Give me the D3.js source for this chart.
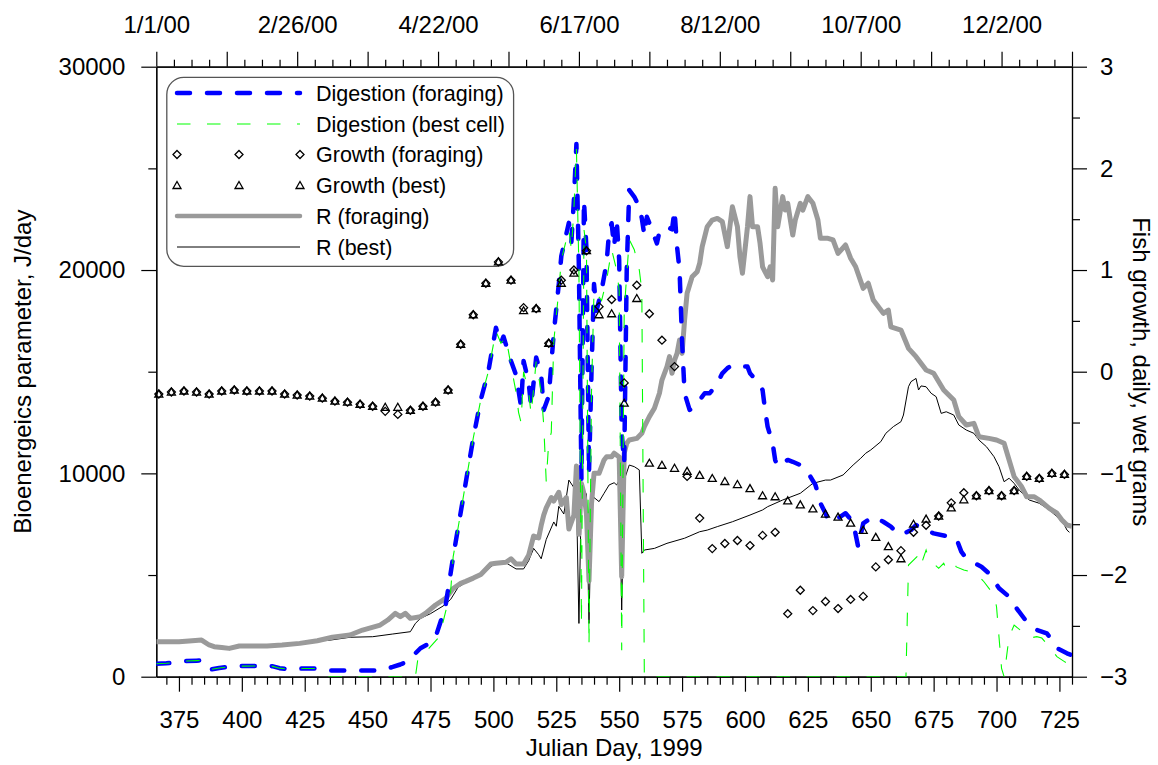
<!DOCTYPE html>
<html><head><meta charset="utf-8">
<script src="https://cdn.jsdelivr.net/npm/d3@7"></script>
<style>
body{margin:0;background:#fff;}
svg{display:block;font-family:"Liberation Sans",Arial,sans-serif;}
</style></head>
<body><svg id="c" width="1158" height="765"></svg>
<script>
// ---------------- data ----------------
const bottomTicks = [375,400,425,450,475,500,525,550,575,600,625,650,675,700,725];
const topLabelDays = [366,422,478,534,590,646,702];
const topLabels = ["1/1/00","2/26/00","4/22/00","6/17/00","8/12/00","10/7/00","12/2/00"];
const leftTicks = [0,10000,20000,30000];
const rightTicks = [-3,-2,-1,0,1,2,3];

const digestionForaging = [[366,640],[370,660],[373,690],[378,770],[382,790],[385,800],[388,360],[391,430],[395,490],[399,520],[406,530],[410,500],[412,520],[415,420],[418,380],[424,400],[430,400],[435,300],[443,300],[447,300],[455,300],[460,480],[463,600],[466,750],[469,1150],[471,1400],[474,1600],[477,1950],[479,2700],[481,3500],[484,5890],[488,8810],[492,11740],[495,13630],[498,15010],[501,17160],[503,16390],[504,16730],[507,15530],[509,14840],[511,13290],[512,15530],[514,14490],[515,13290],[517,15700],[519,14840],[520,13120],[522,13800],[524,16900],[526,19310],[527,20690],[530,22320],[531,21380],[532,23440],[533,26200],[534,20000],[535,9700],[536,23440],[537,21000],[538,10000],[539,15000],[540,19310],[541,18000],[543,19000],[545,20350],[546,21900],[547,22300],[548,21150],[549,22500],[550,20490],[551,12000],[552,10500],[553,20000],[554,23930],[556,23600],[558,23110],[559,22540],[560,21720],[561,22620],[563,22000],[564,21640],[565,21310],[566,21880],[568,22000],[569,22130],[571,22000],[572,22950],[573,21150],[574,20000],[575,16500],[576,13940],[578,13120],[580,13280],[582,13610],[584,13940],[586,13940],[589,14430],[591,14920],[593,15170],[595,15330],[598,15250],[601,15250],[602,14920],[605,14510],[607,14100],[608,13120],[609,12300],[611,11480],[612,10660],[613,10330],[615,10490],[617,10660],[619,10570],[622,10410],[624,10170],[626,9840],[628,9430],[629,9020],[630,8530],[632,8040],[633,7710],[635,7620],[637,7790],[640,8040],[643,7600],[645,6390],[647,7540],[651,7870],[655,7620],[658,7380],[660,7130],[662,6970],[666,7210],[668,7460],[672,7210],[675,7050],[680,6920],[684,6810],[686,6150],[688,5820],[690,5660],[694,5410],[697,5080],[701,4350],[705,3930],[708,3360],[712,2700],[716,2300],[720,2130],[722,1800],[724,1400],[728,1150],[730,1050]];

const digestionBest = [[366,640],[370,660],[373,690],[378,770],[382,790],[385,800],[388,360],[391,430],[395,490],[399,520],[406,530],[410,500],[412,520],[415,420],[418,380],[424,400],[430,400],[432,150],[434,0],[469,0],[470,900],[473,1200],[478,1900],[480,2700],[483,4200],[484,5890],[488,8810],[492,11740],[495,13630],[498,15010],[501,17000],[503,16400],[505,16700],[507,15300],[509,14000],[510,13000],[511,12500],[512,15000],[514,14000],[515,12900],[517,15500],[519,14000],[520,12400],[521,9600],[522,11570],[523,12000],[524,16500],[526,19000],[527,20500],[530,22000],[531,21000],[532,23000],[533,26000],[534,20000],[535,2600],[536,22000],[537,21000],[538,1510],[539,14000],[540,19000],[543,18500],[545,19500],[547,21000],[549,20000],[550,19000],[551,1300],[552,18000],[554,21500],[556,21000],[558,20000],[559,19000],[560,0],[664,0],[665,5490],[669,5980],[670,5500],[672,6230],[673,5800],[677,5330],[679,5580],[680,5300],[683,5580],[684,5400],[687,5250],[692,5080],[695,4670],[699,4020],[700,3440],[702,410],[703,0],[704,1000],[705,1970],[707,2540],[711,2130],[713,1890],[716,1970],[718,1900],[721,1480],[724,985],[727,740],[730,500]];

const rForaging = [[366,1721],[370,1721],[375,1721],[379,1760],[384,1803],[387,1560],[389,1475],[392,1440],[395,1393],[399,1508],[405,1508],[410,1508],[416,1557],[423,1639],[430,1770],[436,1940],[443,2049],[448,2295],[455,2541],[458,2787],[461,3115],[463,2951],[465,3115],[467,2869],[471,2951],[473,3115],[477,3525],[481,3850],[484,4340],[487,4590],[489,4690],[492,4850],[495,5030],[499,5540],[501,5580],[505,5630],[507,5800],[509,5540],[512,5540],[514,5970],[516,6920],[518,6830],[519,7440],[520,7950],[521,8300],[523,8810],[524,8640],[526,9070],[527,8470],[529,8810],[530,7260],[532,7950],[533,10360],[534,7000],[535,9500],[536,9000],[537,8000],[538,4700],[539,8500],[540,10000],[542,10000],[544,10660],[545,10820],[547,10820],[548,10990],[550,10800],[551,4920],[552,10990],[553,11480],[554,11640],[557,11720],[559,11970],[560,12300],[562,12790],[564,13200],[566,13940],[567,14590],[569,15250],[570,15740],[571,14920],[572,15570],[573,15900],[574,16560],[575,15900],[576,17540],[577,18860],[579,19670],[581,19920],[582,20330],[583,21150],[585,22130],[587,22460],[589,22540],[591,22380],[593,21150],[594,22130],[595,23110],[597,22130],[598,20660],[599,19840],[601,22130],[602,23610],[603,22130],[605,22130],[606,21310],[607,20160],[609,19670],[610,20160],[611,19510],[612,24020],[613,22130],[615,23610],[616,22950],[617,23280],[619,21720],[620,22460],[622,23280],[623,22950],[625,23610],[627,23280],[629,22460],[630,21560],[633,21560],[635,21480],[637,20820],[640,21230],[642,20580],[644,20160],[647,19100],[649,19350],[651,18530],[655,17870],[657,18030],[658,17210],[662,17050],[665,16150],[668,15740],[672,15080],[675,14920],[679,14100],[683,13610],[685,12790],[688,12380],[691,12460],[693,11800],[697,11720],[700,11640],[703,11480],[705,10660],[707,9840],[710,9340],[712,8850],[715,8850],[717,8690],[721,8280],[724,8040],[726,7710],[728,7460],[730,7400]];

const rBest = [[366,1721],[370,1721],[375,1721],[379,1760],[384,1803],[387,1560],[389,1475],[392,1440],[395,1393],[399,1508],[405,1508],[410,1508],[416,1557],[423,1639],[430,1770],[434,1780],[443,1940],[452,1967],[460,2100],[467,2213],[469,2623],[471,2869],[475,3100],[480,3476],[483,3800],[486,4400],[490,4700],[495,5000],[500,5500],[505,5600],[509,5300],[512,5300],[514,5700],[516,6310],[518,6000],[519,5800],[521,6750],[524,7610],[525,7400],[526,8380],[528,8000],[530,9670],[532,9300],[533,9000],[534,2620],[535,9160],[537,9000],[538,2620],[539,8500],[540,8810],[542,8610],[544,9020],[546,9430],[548,9540],[549,9430],[550,9670],[551,3280],[552,9670],[554,10410],[556,10330],[558,10170],[559,6070],[560,6230],[564,6310],[569,6560],[576,6810],[582,7130],[585,7210],[589,7380],[595,7620],[602,7950],[607,8200],[609,8360],[615,8690],[622,9020],[627,9510],[632,9670],[634,9670],[639,9920],[643,10410],[646,10740],[648,10990],[650,11150],[654,11560],[656,11970],[659,12300],[662,12540],[663,12870],[665,14260],[666,14510],[668,14670],[669,14100],[670,14300],[672,14260],[674,13940],[676,13770],[678,12950],[680,13030],[683,12870],[685,12380],[688,12130],[691,11970],[693,11640],[696,11310],[699,10820],[701,10330],[703,9590],[705,9760],[707,9510],[709,9180],[713,8690],[717,8530],[721,8200],[724,7870],[727,7460],[728,7210],[729,7100]];

const growthDays = [367,372,377,382,387,392,397,402,407,412,417,422,427,432,437,442,447,452,457,462,467,472,477,482,487,492,497,502,507,512,517,522,527,532,537,542,547,552,557,562,567,572,577,582,587,592,597,602,607,612,617,622,627,632,637,642,647,652,657,662,667,672,677,682,687,692,697,702,707,712,717,722,727];
const growthForaging = [-0.22,-0.20,-0.19,-0.20,-0.22,-0.19,-0.18,-0.19,-0.19,-0.19,-0.22,-0.23,-0.24,-0.26,-0.29,-0.30,-0.32,-0.34,-0.39,-0.42,-0.38,-0.34,-0.30,-0.18,0.27,0.56,0.87,1.08,0.90,0.63,0.62,0.28,0.90,1.00,1.19,0.64,0.71,-0.11,0.85,0.57,0.31,0.05,-1.03,-1.44,-1.74,-1.69,-1.66,-1.71,-1.61,-1.58,-2.38,-2.15,-2.35,-2.26,-2.33,-2.24,-2.21,-1.92,-1.85,-1.76,-1.58,-1.51,-1.42,-1.29,-1.19,-1.22,-1.17,-1.22,-1.17,-1.03,-1.05,-1.00,-1.01];
const growthBest = [-0.22,-0.20,-0.19,-0.20,-0.22,-0.19,-0.18,-0.19,-0.19,-0.19,-0.22,-0.23,-0.24,-0.26,-0.29,-0.30,-0.32,-0.34,-0.35,-0.35,-0.38,-0.34,-0.30,-0.18,0.27,0.56,0.87,1.08,0.90,0.60,0.62,0.28,0.87,0.97,1.19,0.56,0.57,-0.31,0.72,-0.90,-0.92,-0.95,-0.98,-1.02,-1.05,-1.08,-1.11,-1.15,-1.22,-1.23,-1.27,-1.31,-1.35,-1.40,-1.43,-1.49,-1.56,-1.63,-1.72,-1.84,-1.50,-1.45,-1.42,-1.34,-1.26,-1.22,-1.17,-1.22,-1.17,-1.03,-1.05,-1.00,-1.01];

const legendLabels = ["Digestion (foraging)","Digestion (best cell)","Growth (foraging)","Growth (best)","R (foraging)","R (best)"];

// ---------------- layout ----------------
const L = 156.3, R = 1072, T = 66.7, B = 676.7;
const svg = d3.select("#c");
const x = d3.scaleLinear().domain([366, 730]).range([L, R]);
const yL = d3.scaleLinear().domain([0, 30000]).range([B, T]);
const yR = d3.scaleLinear().domain([-3, 3]).range([B, T]);

const BLUE = "#0000ff", GREEN = "#00ff00", GRAY = "#9a9a9a";
const FS = 24;

function styleAxis(g){
  g.selectAll("path.domain").attr("stroke","#000").attr("stroke-width",1.2);
  g.selectAll(".tick line").attr("stroke","#000").attr("stroke-width",1.2);
  g.selectAll("text").attr("font-size",FS).attr("fill","#000").attr("font-family","Liberation Sans, Arial, sans-serif");
}

// bottom
const minorBottom = d3.range(370, 731, 5).filter(d => d % 25 !== 0);
svg.append("g").attr("transform",`translate(0,${B})`)
  .call(d3.axisBottom(x).tickValues(minorBottom).tickSize(8).tickSizeOuter(0).tickFormat(""))
  .call(styleAxis);
svg.append("g").attr("transform",`translate(0,${B})`)
  .call(d3.axisBottom(x).tickValues(bottomTicks).tickSize(15).tickSizeOuter(0).tickPadding(19).tickFormat(d3.format("d")))
  .call(styleAxis);
// top
const topMajor = d3.range(366, 731, 28);
const topMinor = d3.range(366, 731, 7).filter(d => (d-366) % 28 !== 0);
svg.append("g").attr("transform",`translate(0,${T})`)
  .call(d3.axisTop(x).tickValues(topMinor).tickSize(7).tickSizeOuter(0).tickFormat(""))
  .call(styleAxis);
svg.append("g").attr("transform",`translate(0,${T})`)
  .call(d3.axisTop(x).tickValues(topMajor).tickSize(15).tickSizeOuter(0).tickPadding(19)
    .tickFormat(d => { const i = topLabelDays.indexOf(d); return i >= 0 ? topLabels[i] : ""; }))
  .call(styleAxis);
// left
svg.append("g").attr("transform",`translate(${L},0)`)
  .call(d3.axisLeft(yL).tickValues([5000,15000,25000]).tickSize(8).tickSizeOuter(0).tickFormat(""))
  .call(styleAxis);
svg.append("g").attr("transform",`translate(${L},0)`)
  .call(d3.axisLeft(yL).tickValues(leftTicks).tickSize(15).tickSizeOuter(0).tickPadding(16).tickFormat(d3.format("d")))
  .call(styleAxis);
// right
svg.append("g").attr("transform",`translate(${R},0)`)
  .call(d3.axisRight(yR).tickValues([-2.5,-1.5,-0.5,0.5,1.5,2.5]).tickSize(8).tickSizeOuter(0).tickFormat(""))
  .call(styleAxis);
svg.append("g").attr("transform",`translate(${R},0)`)
  .call(d3.axisRight(yR).tickValues(rightTicks).tickSize(15).tickSizeOuter(0).tickPadding(13).tickFormat(d3.format("d")))
  .call(styleAxis);

// titles
svg.append("text").attr("x",(L+R)/2).attr("y",756).attr("text-anchor","middle").attr("font-size",FS).text("Julian Day, 1999");
svg.append("text").attr("transform",`translate(31,${(T+B)/2}) rotate(-90)`).attr("text-anchor","middle").attr("font-size",FS).text("Bioenergeics parameter, J/day");
svg.append("text").attr("transform",`translate(1133,${(T+B)/2}) rotate(90)`).attr("text-anchor","middle").attr("font-size",FS).text("Fish growth, daily, wet grams");

// legend box
const lg = svg.append("g");
lg.append("rect").attr("x",166.8).attr("y",77.4).attr("width",346.8).attr("height",188.9).attr("rx",17)
  .attr("fill","none").attr("stroke","#555").attr("stroke-width",1.3);

// lines
svg.append("clipPath").attr("id","clip").append("rect").attr("x",L).attr("y",T-3).attr("width",R-L).attr("height",B-T+3);
const lineL = d3.line().x(d => x(d[0])).y(d => yL(d[1]));
const plot = svg.append("g").attr("clip-path","url(#clip)");
plot.append("path").datum(rBest).attr("d",lineL).attr("fill","none").attr("stroke","#000").attr("stroke-width",1);
plot.append("path").datum(rForaging).attr("d",lineL).attr("fill","none").attr("stroke",GRAY).attr("stroke-width",5).attr("stroke-linejoin","round");
plot.append("path").datum(digestionForaging).attr("d",lineL).attr("fill","none").attr("stroke",BLUE).attr("stroke-width",4.5)
  .attr("stroke-dasharray","13 17").attr("stroke-linecap","round").attr("stroke-linejoin","round");
plot.append("path").datum(digestionBest).attr("d",lineL).attr("fill","none").attr("stroke",GREEN).attr("stroke-width",1.1)
  .attr("stroke-dasharray","13.5 16.5");

const diamond = "M0,-4L4,0L0,4L-4,0Z";
const triangle = "M0,-4L4,3L-4,3Z";
const gB = growthDays.map((d,i) => [d, growthBest[i]]);
const gF = growthDays.map((d,i) => [d, growthForaging[i]]);
svg.append("g").selectAll("path").data(gB).join("path")
  .attr("transform", d => `translate(${x(d[0])},${yR(d[1])})`).attr("d",triangle)
  .attr("fill","none").attr("stroke","#000").attr("stroke-width",1.3);
svg.append("g").selectAll("path").data(gF).join("path")
  .attr("transform", d => `translate(${x(d[0])},${yR(d[1])})`).attr("d",diamond)
  .attr("fill","none").attr("stroke","#000").attr("stroke-width",1.3);

// legend entries
const rows = [93, 124, 154.5, 185.5, 216, 247];
const lx0 = 177, lx1 = 300, tx = 316;
lg.append("line").attr("x1",lx0).attr("x2",lx1).attr("y1",rows[0]).attr("y2",rows[0]).attr("stroke",BLUE).attr("stroke-width",4.5).attr("stroke-dasharray","13 17").attr("stroke-linecap","round");
lg.append("line").attr("x1",lx0).attr("x2",lx1).attr("y1",rows[1]).attr("y2",rows[1]).attr("stroke",GREEN).attr("stroke-width",1.1).attr("stroke-dasharray","13.5 16.5");
[177,239,300].forEach(px => {
  lg.append("path").attr("transform",`translate(${px},${rows[2]})`).attr("d",diamond).attr("fill","none").attr("stroke","#000").attr("stroke-width",1.3);
  lg.append("path").attr("transform",`translate(${px},${rows[3]})`).attr("d",triangle).attr("fill","none").attr("stroke","#000").attr("stroke-width",1.3);
});
lg.append("line").attr("x1",lx0).attr("x2",lx1).attr("y1",rows[4]).attr("y2",rows[4]).attr("stroke",GRAY).attr("stroke-width",4.5).attr("stroke-linecap","round");
lg.append("line").attr("x1",lx0).attr("x2",lx1).attr("y1",rows[5]).attr("y2",rows[5]).attr("stroke","#000").attr("stroke-width",1);
legendLabels.forEach((t,i) => {
  lg.append("text").attr("x",tx).attr("y",rows[i]).attr("dy","0.35em").attr("font-size",21.5).text(t);
});
</script></body></html>
